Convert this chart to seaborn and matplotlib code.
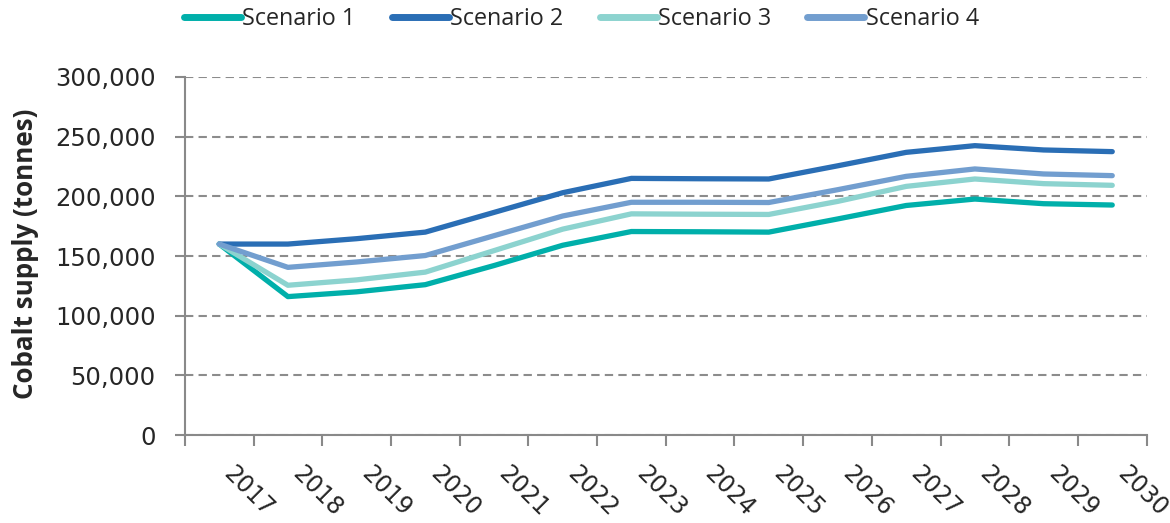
import numpy as np
import pandas as pd
import matplotlib
matplotlib.use("Agg")
import matplotlib.pyplot as plt
import seaborn as sns
from matplotlib.ticker import FuncFormatter, FixedLocator

years = [2017, 2018, 2019, 2020, 2021, 2022, 2023, 2024, 2025, 2026, 2027, 2028, 2029, 2030]
scenario_1 = [160000, 116000, 120000, 126000, 142000, 159000, 170500, 170300, 170000, 181000, 192300, 197700, 193800, 192700]
scenario_2 = [160000, 160000, 164500, 170000, 186500, 203000, 215000, 214700, 214500, 225500, 236800, 242400, 238800, 237400]
scenario_3 = [160000, 125500, 130000, 136500, 154500, 172500, 185300, 185000, 184800, 195700, 208300, 214500, 210600, 209200]
scenario_4 = [160000, 140500, 145000, 150400, 167000, 183500, 195000, 195000, 194800, 205500, 216700, 222900, 218700, 217300]
series_names = ["Scenario 1", "Scenario 2", "Scenario 3", "Scenario 4"]
colors = ["#00AFAA", "#2A6EB5", "#8CD3CF", "#729ECF"]

rows = []
for name, vals in zip(series_names, [scenario_1, scenario_2, scenario_3, scenario_4]):
    for i, (y, v) in enumerate(zip(years, vals)):
        rows.append({"idx": i, "year": y, "value": v, "series": name})
df = pd.DataFrame(rows)

sns.set_style("white")
plt.rcParams["font.family"] = ["DejaVu Sans"]

fig = plt.figure(figsize=(11.7, 5.23), dpi=100)
ax = fig.add_axes([0.158, 0.168, 0.822, 0.685])

sns.lineplot(data=df, x="idx", y="value", hue="series", palette=colors,
             linewidth=3.8, ax=ax, legend=True, solid_capstyle="round")

ax.set_xlim(-0.5, len(years) - 0.5)
ax.set_ylim(0, 300000)
ax.set_yticks(np.arange(0, 300001, 50000))
ax.yaxis.set_major_formatter(FuncFormatter(lambda v, p: f"{int(v):,}"))

ax.xaxis.set_major_locator(FixedLocator(np.arange(-0.5, len(years), 1.0)))
ax.xaxis.set_minor_locator(FixedLocator(np.arange(0, len(years), 1.0)))
ax.set_xticklabels([])
ax.set_xticklabels([str(y) for y in years], minor=True, rotation=-45, ha="left", va="top",
                   fontsize=17)
ax.tick_params(axis="x", which="major", length=8, width=1.5, color="#898989", direction="out")
ax.tick_params(axis="x", which="minor", length=0, pad=19)
ax.tick_params(axis="y", length=7, width=1.5, color="#898989", direction="out", labelsize=17.5, pad=14)
ax.tick_params(axis="x", which="major", bottom=True)
ax.tick_params(axis="y", left=True)

ax.grid(axis="y", linestyle=(0, (4, 2.5)), color="#8C8C8C", linewidth=1.5)
ax.set_axisbelow(True)
for s in ["top", "right"]:
    ax.spines[s].set_visible(False)
for s in ["left", "bottom"]:
    ax.spines[s].set_color("#898989")
    ax.spines[s].set_linewidth(1.5)

ax.set_xlabel("")
ax.set_ylabel("")
fig.text(0.0215, (0.168 + 0.853) / 2 + 0.005, "Cobalt supply (tonnes)", rotation=90, ha="center",
         va="center", fontsize=18.7, fontweight="bold", family="Open Sans")

handles, labels = ax.get_legend_handles_labels()
ax.legend_.remove()
leg = fig.legend(handles, labels, loc="center", bbox_to_anchor=(0.497, 0.963), ncol=4,
                 frameon=False, prop={"family": "Open Sans", "size": 16.8}, handlelength=2.45,
                 columnspacing=1.55, handletextpad=0.05)
for h in leg.get_lines():
    h.set_linewidth(5)
    h.set_solid_capstyle("round")

fig.savefig("out.png", dpi=100)
